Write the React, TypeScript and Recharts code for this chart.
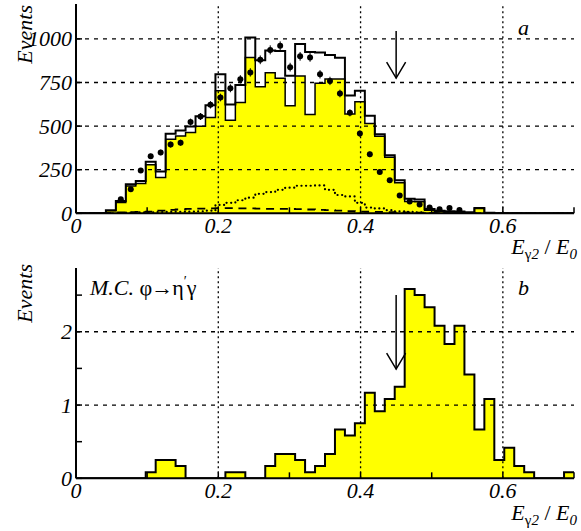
import React from 'react';
import {
  ComposedChart, Area, Line, Scatter, ErrorBar, XAxis, YAxis, ReferenceLine, Customized, Label,
} from 'recharts';

// ---------- data ----------
const BIN_WIDTH = 0.014; // 50 bins over [0, 0.7]
const X_MAX = 0.7;

// panel a: MC signal (yellow)
const SIGNAL_A = [
  0, 0, 0, 15, 62, 157, 171, 278, 205, 425,
  443, 463, 499, 550, 703, 533, 635, 893, 725, 806,
  774, 617, 787, 566, 745, 770, 770, 570, 640, 515,
  442, 322, 175, 68, 67, 18, 10, 8, 6, 3,
  28, 2, 0, 0, 0, 0, 0, 0, 0, 0,
];
// panel a: total MC (open histogram)
const TOTAL_A = [
  0, 0, 0, 17, 70, 166, 185, 295, 240, 456,
  475, 498, 557, 620, 798, 624, 736, 1008, 878, 934,
  930, 788, 970, 925, 922, 908, 892, 675, 702, 560,
  454, 333, 190, 83, 80, 25, 15, 12, 10, 6,
  30, 4, 0, 0, 0, 0, 0, 0, 0, 0,
];
// panel a: background (dotted)
const DOTTED_A = [
  0, 0, 0, 0, 0, 4, 5, 6, 7, 8,
  9, 10, 12, 15, 48, 60, 75, 90, 112, 122,
  135, 147, 158, 158, 160, 135, 105, 97, 60, 33,
  28, 18, 12, 8, 5, 0, 0, 0, 0, 0,
  0, 0, 0, 0, 0, 0, 0, 0, 0, 0,
];
// panel a: background (dashed)
const DASHED_A = [
  0, 0, 0, 3, 5, 7, 8, 10, 15, 20,
  22, 25, 27, 28, 30, 30, 28, 28, 27, 26,
  25, 25, 24, 22, 20, 18, 15, 12, 10, 9,
  8, 7, 6, 5, 4, 3, 2, 0, 0, 0,
  0, 0, 0, 0, 0, 0, 0, 0, 0, 0,
];
// panel a: experimental points
const DATA_A = [
  null, null, null, null, 80, 138, 245, 327, 349, 394,
  405, 523, 555, 622, 664, 717, 768, 808, 880, 937,
  960, 838, 900, 894, 797, 759, 687, 576, 457, 338,
  237, 190, 102, 68, 50, 33, 23, 30, 19, null,
  null, null, null, null, null, null, null, null, null, null,
];
const DATA_ERR_A = [
  null, null, null, null, 8, 10, 13, 15, 16, 17,
  17, 20, 20, 21, 22, 23, 24, 24, 25, 26,
  26, 25, 25, 25, 24, 24, 22, 20, 18, 16,
  13, 12, 9, 7, 6, 5, 4, 5, 4, null,
  null, null, null, null, null, null, null, null, null, null,
];
// panel b: M.C. phi -> eta' gamma
const MC_B = [
  0, 0, 0, 0, 0, 0, 0, 0.083, 0.25, 0.25,
  0.167, 0, 0, 0, 0, 0.083, 0.083, 0, 0, 0.167,
  0.333, 0.333, 0.25, 0.083, 0.167, 0.333, 0.667, 0.583, 0.75, 1.167,
  0.917, 1.083, 1.25, 2.583, 2.5, 2.333, 2.083, 1.833, 2.083, 1.417,
  0.667, 1.083, 0.25, 0.417, 0.167, 0.083, 0, 0, 0, 0.083,
];

const X_TICKS = [0, 0.1, 0.2, 0.3, 0.4, 0.5, 0.6, 0.7];
const X_TICK_LABELS = ['0', '', '0.2', '', '0.4', '', '0.6', ''];
const X_GRID = [0.2, 0.4, 0.6];

const Y_DOMAIN_A = [0, 1200];
const Y_TICKS_A = [0, 250, 500, 750, 1000];
const Y_TICK_LABELS_A = ['0', '250', '500', '750', '1000'];
const Y_GRID_A = [250, 500, 750, 1000];

const Y_DOMAIN_B = [0, 2.87];
const Y_TICKS_B = [0, 0.5, 1, 1.5, 2, 2.5];
const Y_TICK_LABELS_B = ['0', '', '1', '', '2', ''];
const Y_GRID_B = [1, 2];

const CUT = 0.45;
const ARROW_A = [1045, 775];
const ARROW_B = [2.5, 1.49];

// ---------- helpers ----------
const FONT = "'Liberation Serif', 'Times New Roman', Times, serif";
const TICK_GAP = 6;

const toSteps = (vals: number[]) => [
  ...vals.map((v, i) => ({ x: +(i * BIN_WIDTH).toFixed(4), y: v })),
  { x: X_MAX, y: vals[vals.length - 1] },
];
const toPoints = (vals: (number | null)[], errs: (number | null)[]) =>
  vals
    .map((v, i) => (v == null ? null : { x: +((i + 0.5) * BIN_WIDTH).toFixed(4), y: v, err: errs[i] }))
    .filter(Boolean) as { x: number; y: number; err: number }[];

const makeXTick = (labels: string[]) => (props: any) => {
  const { x, y, index } = props;
  const axisY = y - TICK_GAP;
  const label = labels[index];
  return (
    <g>
      <line x1={x} x2={x} y1={axisY} y2={axisY - 6} stroke="#000" strokeWidth={1.5} />
      {label ? (
        <text x={x} y={axisY + 20} textAnchor="middle" fontFamily={FONT} fontStyle="italic" fontSize={22} fill="#000">
          {label}
        </text>
      ) : null}
    </g>
  );
};

const makeYTick = (labels: string[]) => (props: any) => {
  const { x, y, index } = props;
  const axisX = x + TICK_GAP;
  const label = labels[index];
  return (
    <g>
      <line x1={axisX} x2={axisX + 6} y1={y} y2={y} stroke="#000" strokeWidth={1.5} />
      {label ? (
        <text x={axisX - 4} y={y + 7.5} textAnchor="end" fontFamily={FONT} fontStyle="italic" fontSize={22} fill="#000">
          {label}
        </text>
      ) : null}
    </g>
  );
};

const makeXTitle = (dyBase: number) => (props: any) => {
  const vb = props.viewBox || { x: 76, y: 0, width: 498 };
  const xEnd = vb.x + vb.width + 3;
  const y = vb.y + dyBase;
  return (
    <text x={xEnd} y={y} textAnchor="end" fontFamily={FONT} fontSize={22} fill="#000">
      <tspan fontStyle="italic">E</tspan>
      <tspan fontSize={15} dy={5}>γ</tspan>
      <tspan fontSize={15} fontStyle="italic">2</tspan>
      <tspan dy={-5}> / </tspan>
      <tspan fontStyle="italic">E</tspan>
      <tspan fontSize={15} fontStyle="italic" dy={5}>0</tspan>
    </text>
  );
};

const makeYTitle = (offset: number) => (props: any) => {
  const vb = props.viewBox || { x: 0, y: 0 };
  const x = 32;
  const y = vb.y + offset;
  return (
    <text x={x} y={y} transform={`rotate(-90 ${x} ${y})`} textAnchor="end" fontFamily={FONT} fontStyle="italic" fontSize={22} fill="#000">
      Events
    </text>
  );
};

const Arrow = (props: any) => {
  const { x1, y1, x2, y2 } = props;
  return (
    <g>
      <line x1={x1} y1={y1} x2={x2} y2={y2} stroke="#000" strokeWidth={1.5} />
      <polyline points={`${x2 - 9.5},${y2 - 16} ${x2},${y2} ${x2 + 9.5},${y2 - 16}`} fill="none" stroke="#000" strokeWidth={1.5} />
    </g>
  );
};

const DataDot = (props: any) => <circle cx={props.cx} cy={props.cy} r={3} fill="#000" />;

const axisLine = { stroke: '#000', strokeWidth: 2 };

const AnnotA = () => (
  <text x={518} y={35} fontFamily={FONT} fontStyle="italic" fontSize={22} fill="#000">a</text>
);
const AnnotB = () => (
  <g>
    <text x={518} y={45} fontFamily={FONT} fontStyle="italic" fontSize={22} fill="#000">b</text>
    <text x={90} y={45} fontFamily={FONT} fontSize={22} fill="#000">
      <tspan fontStyle="italic">M.C.</tspan>
      <tspan> φ</tspan>
      <tspan dx={-1}>→</tspan>
      <tspan dx={-1}>η</tspan>
      <tspan fontSize={14} dy={-9}>′</tspan>
      <tspan dy={9}>γ</tspan>
    </text>
  </g>
);

const signalA = toSteps(SIGNAL_A);
const totalA = toSteps(TOTAL_A);
const dottedA = toSteps(DOTTED_A);
const dashedA = toSteps(DASHED_A);
const pointsA = toPoints(DATA_A, DATA_ERR_A);
const mcB = toSteps(MC_B);

export default function App() {
  return (
    <div style={{ position: 'absolute', left: 0, top: 0, width: 581, height: 531, background: '#fff' }}>
      <div style={{ position: 'absolute', left: 0, top: 0 }}>
        <ComposedChart width={581} height={262} margin={{ top: 4, right: 7, bottom: 0, left: 0 }}>
          <XAxis dataKey="x" type="number" domain={[0, X_MAX]} ticks={X_TICKS} interval={0} tickSize={0}
            tickMargin={TICK_GAP} tick={makeXTick(X_TICK_LABELS)} axisLine={axisLine} height={48.67} allowDataOverflow>
            <Label content={makeXTitle(41)} />
          </XAxis>
          <XAxis xAxisId="top" orientation="top" type="number" domain={[0, X_MAX]} height={0} tick={false}
            tickLine={false} axisLine={axisLine} />
          <YAxis dataKey="y" type="number" domain={Y_DOMAIN_A} ticks={Y_TICKS_A} interval={0} width={76} tickSize={0}
            tickMargin={TICK_GAP} tick={makeYTick(Y_TICK_LABELS_A)} axisLine={axisLine} allowDataOverflow>
            <Label content={makeYTitle(1)} />
          </YAxis>
          <YAxis yAxisId="right" orientation="right" type="number" domain={Y_DOMAIN_A} width={0} tick={false}
            tickLine={false} axisLine={axisLine} />
          <Area data={signalA} dataKey="y" type="stepAfter" fill="#ffff00" fillOpacity={1} stroke="#000"
            strokeWidth={1.5} dot={false} activeDot={false} isAnimationActive={false} />
          <Line data={totalA} dataKey="y" type="stepAfter" stroke="#000" strokeWidth={2} dot={false}
            activeDot={false} isAnimationActive={false} />
          <Line data={dottedA} dataKey="y" type="stepAfter" stroke="#000" strokeWidth={2.2} strokeDasharray="0.1 4.5"
            strokeLinecap="round" dot={false} activeDot={false} isAnimationActive={false} />
          <Line data={dashedA} dataKey="y" type="stepAfter" stroke="#000" strokeWidth={1.8} strokeDasharray="8 6"
            dot={false} activeDot={false} isAnimationActive={false} />
          {X_GRID.map((v) => (
            <ReferenceLine key={'xa' + v} x={v} stroke="#000" strokeWidth={1.3} strokeDasharray="2 3" />
          ))}
          {Y_GRID_A.map((v) => (
            <ReferenceLine key={'ya' + v} y={v} stroke="#000" strokeWidth={1.3} strokeDasharray="4 5" />
          ))}
          <Scatter data={pointsA} dataKey="y" shape={DataDot} isAnimationActive={false}>
            <ErrorBar dataKey="err" direction="y" width={0} stroke="#000" strokeWidth={1} />
          </Scatter>
          <ReferenceLine segment={[{ x: CUT, y: ARROW_A[0] }, { x: CUT, y: ARROW_A[1] }]} shape={Arrow} />
          <Customized component={<AnnotA />} />
        </ComposedChart>
      </div>
      <div style={{ position: 'absolute', left: 0, top: 250 }}>
        <ComposedChart width={581} height={281} margin={{ top: 18, right: 7, bottom: 0, left: 0 }}>
          <XAxis dataKey="x" type="number" domain={[0, X_MAX]} ticks={X_TICKS} interval={0} tickSize={0}
            tickMargin={TICK_GAP} tick={makeXTick(X_TICK_LABELS)} axisLine={axisLine} height={52.67} allowDataOverflow>
            <Label content={makeXTitle(42)} />
          </XAxis>
          <XAxis xAxisId="top" orientation="top" type="number" domain={[0, X_MAX]} height={0} tick={false}
            tickLine={false} axisLine={axisLine} />
          <YAxis dataKey="y" type="number" domain={Y_DOMAIN_B} ticks={Y_TICKS_B} interval={0} width={76} tickSize={0}
            tickMargin={TICK_GAP} tick={makeYTick(Y_TICK_LABELS_B)} axisLine={axisLine} allowDataOverflow>
            <Label content={makeYTitle(-4)} />
          </YAxis>
          <YAxis yAxisId="right" orientation="right" type="number" domain={Y_DOMAIN_B} width={0} tick={false}
            tickLine={false} axisLine={axisLine} />
          <Area data={mcB} dataKey="y" type="stepAfter" fill="#ffff00" fillOpacity={1} stroke="#000"
            strokeWidth={2} dot={false} activeDot={false} isAnimationActive={false} />
          {X_GRID.map((v) => (
            <ReferenceLine key={'xb' + v} x={v} stroke="#000" strokeWidth={1.3} strokeDasharray="2 3" />
          ))}
          {Y_GRID_B.map((v) => (
            <ReferenceLine key={'yb' + v} y={v} stroke="#000" strokeWidth={1.3} strokeDasharray="4 5" />
          ))}
          <ReferenceLine segment={[{ x: CUT, y: ARROW_B[0] }, { x: CUT, y: ARROW_B[1] }]} shape={Arrow} />
          <Customized component={<AnnotB />} />
        </ComposedChart>
      </div>
    </div>
  );
}
